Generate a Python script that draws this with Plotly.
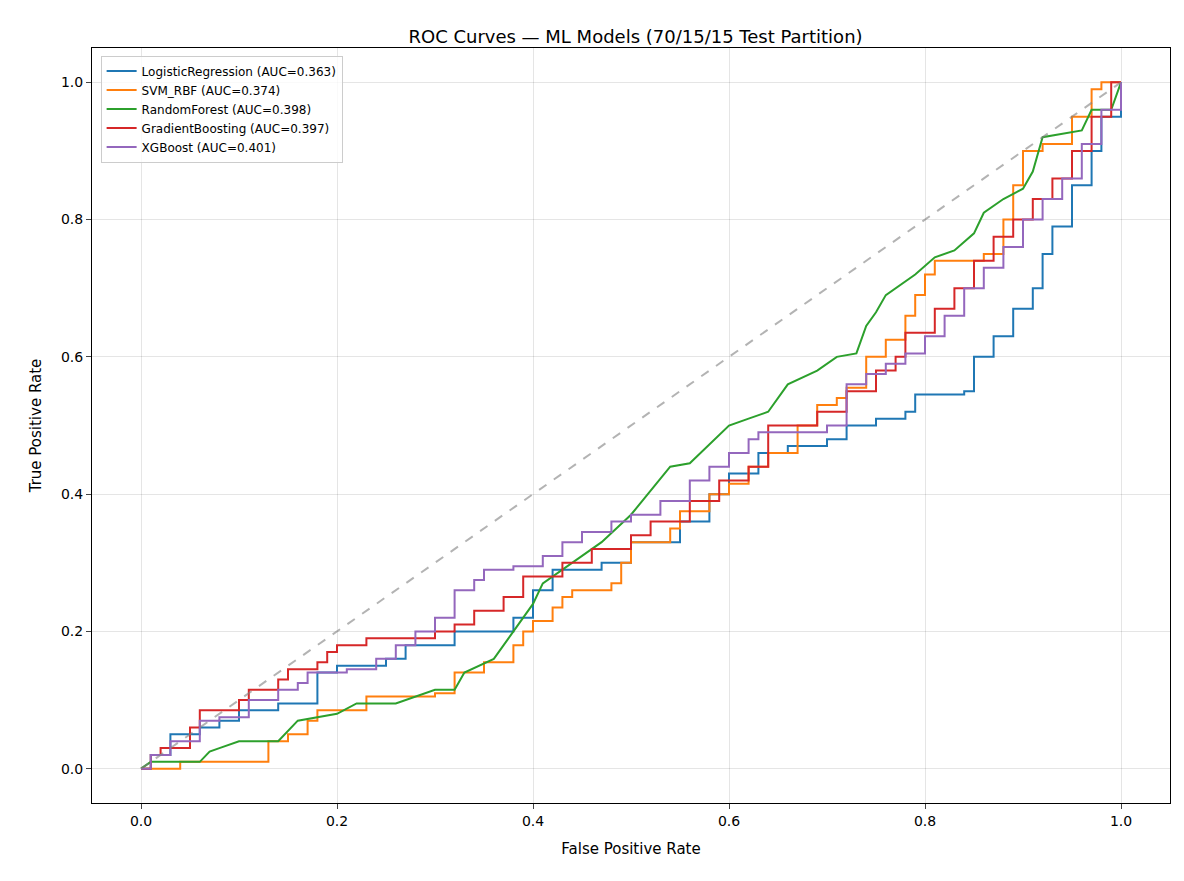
import plotly.graph_objects as go

names = ["LogisticRegression (AUC=0.363)", "SVM_RBF (AUC=0.374)", "RandomForest (AUC=0.398)",
         "GradientBoosting (AUC=0.397)", "XGBoost (AUC=0.401)"]
colors = ["#1f77b4", "#ff7f0e", "#2ca02c", "#d62728", "#9467bd"]
shapes = ["hv", "hv", "linear", "hv", "hv"]

lr_fpr = [0,0.01,0.03,0.06,0.08,0.1,0.14,0.18,0.2,0.25,0.27,0.32,0.37,0.38,0.4,0.42,0.47,0.5,0.55,0.58,0.6,0.63,0.66,0.7,0.72,0.75,0.78,0.79,0.84,0.85,0.87,0.89,0.91,0.92,0.93,0.95,0.97,0.98,1]
lr_tpr = [0,0.02,0.05,0.06,0.07,0.085,0.095,0.14,0.15,0.16,0.18,0.2,0.2,0.22,0.26,0.29,0.3,0.33,0.36,0.4,0.43,0.46,0.47,0.48,0.5,0.51,0.52,0.545,0.55,0.6,0.63,0.67,0.7,0.75,0.79,0.85,0.9,0.95,1]
svm_fpr = [0,0.04,0.04,0.12,0.13,0.15,0.17,0.18,0.23,0.23,0.3,0.32,0.35,0.38,0.39,0.4,0.42,0.43,0.44,0.48,0.49,0.5,0.54,0.55,0.58,0.6,0.62,0.64,0.67,0.69,0.71,0.72,0.74,0.76,0.78,0.79,0.8,0.81,0.86,0.88,0.89,0.9,0.92,0.95,0.97,0.98,1]
svm_tpr = [0,0,0.01,0.01,0.04,0.05,0.07,0.085,0.09,0.105,0.11,0.14,0.155,0.18,0.2,0.215,0.235,0.25,0.26,0.27,0.3,0.33,0.35,0.375,0.4,0.415,0.44,0.46,0.5,0.53,0.54,0.555,0.6,0.625,0.66,0.69,0.72,0.74,0.75,0.8,0.85,0.9,0.91,0.95,0.99,1,1]
rf_fpr = [0,0.01,0.06,0.07,0.08,0.1,0.14,0.16,0.2,0.22,0.26,0.3,0.32,0.33,0.36,0.38,0.4,0.41,0.44,0.47,0.5,0.54,0.56,0.6,0.62,0.64,0.66,0.69,0.71,0.73,0.74,0.75,0.76,0.79,0.81,0.83,0.85,0.86,0.88,0.9,0.91,0.92,0.96,0.97,0.99,1]
rf_tpr = [0,0.01,0.01,0.025,0.03,0.04,0.04,0.07,0.08,0.095,0.095,0.115,0.115,0.14,0.16,0.2,0.24,0.27,0.3,0.33,0.37,0.44,0.445,0.5,0.51,0.52,0.56,0.58,0.6,0.605,0.645,0.665,0.69,0.72,0.745,0.755,0.78,0.81,0.83,0.845,0.87,0.92,0.93,0.96,0.96,1]
gb_fpr = [0,0.01,0.02,0.05,0.06,0.1,0.11,0.14,0.15,0.18,0.19,0.2,0.23,0.3,0.32,0.34,0.37,0.39,0.43,0.46,0.5,0.52,0.56,0.59,0.62,0.64,0.69,0.72,0.75,0.77,0.78,0.81,0.83,0.85,0.87,0.89,0.91,0.93,0.95,0.97,0.99,1]
gb_tpr = [0,0.02,0.03,0.06,0.085,0.1,0.115,0.13,0.145,0.155,0.17,0.18,0.19,0.2,0.21,0.23,0.25,0.28,0.3,0.32,0.34,0.36,0.39,0.42,0.44,0.5,0.52,0.55,0.58,0.6,0.635,0.67,0.7,0.74,0.775,0.8,0.83,0.86,0.9,0.95,1,1]
xgb_fpr = [0,0.01,0.03,0.06,0.08,0.11,0.14,0.16,0.17,0.21,0.24,0.26,0.28,0.3,0.32,0.34,0.35,0.38,0.41,0.43,0.45,0.48,0.5,0.53,0.56,0.58,0.6,0.62,0.63,0.7,0.72,0.74,0.76,0.78,0.8,0.82,0.84,0.86,0.88,0.9,0.92,0.94,0.96,0.98,1]
xgb_tpr = [0,0.02,0.04,0.07,0.075,0.1,0.115,0.125,0.14,0.145,0.16,0.18,0.2,0.22,0.26,0.275,0.29,0.295,0.31,0.33,0.345,0.36,0.37,0.39,0.42,0.44,0.46,0.48,0.49,0.5,0.56,0.575,0.59,0.605,0.63,0.66,0.7,0.73,0.76,0.8,0.83,0.86,0.91,0.96,1]
diag = [0, 1]

fprs = [lr_fpr, svm_fpr, rf_fpr, gb_fpr, xgb_fpr]
tprs = [lr_tpr, svm_tpr, rf_tpr, gb_tpr, xgb_tpr]

fig = go.Figure()
for n, c, s, x, y in zip(names, colors, shapes, fprs, tprs):
    fig.add_trace(go.Scatter(x=x, y=y, name=n, mode="lines", line=dict(color=c, width=2, shape=s)))
fig.add_trace(go.Scatter(x=diag, y=diag, mode="lines", showlegend=False,
                         line=dict(color="rgba(128,128,128,0.6)", width=2, dash="dash")))

ax = dict(range=[-0.05, 1.05], showline=True, mirror=True, linecolor="black", linewidth=1,
          ticks="outside", tickvals=[0, 0.2, 0.4, 0.6, 0.8, 1.0],
          ticktext=["0.0", "0.2", "0.4", "0.6", "0.8", "1.0"],
          gridcolor="rgba(0,0,0,0.1)", zeroline=False, tickfont=dict(size=14, color="black"))
fig.update_layout(
    width=1184, height=881, paper_bgcolor="white", plot_bgcolor="white",
    margin=dict(l=84, r=22, t=40, b=86),
    font=dict(family="DejaVu Sans", color="black"),
    title=dict(text="ROC Curves — ML Models (70/15/15 Test Partition)", x=0.53, xanchor="center",
               y=0.975, font=dict(size=18)),
    xaxis=dict(ax, title=dict(text="False Positive Rate", font=dict(size=15))),
    yaxis=dict(ax, title=dict(text="True Positive Rate", font=dict(size=15))),
    legend=dict(x=0.008, y=0.99, xanchor="left", yanchor="top", bordercolor="#cccccc",
                borderwidth=1, font=dict(size=12), bgcolor="rgba(255,255,255,0.8)"),
)
fig.write_html("out.html")
